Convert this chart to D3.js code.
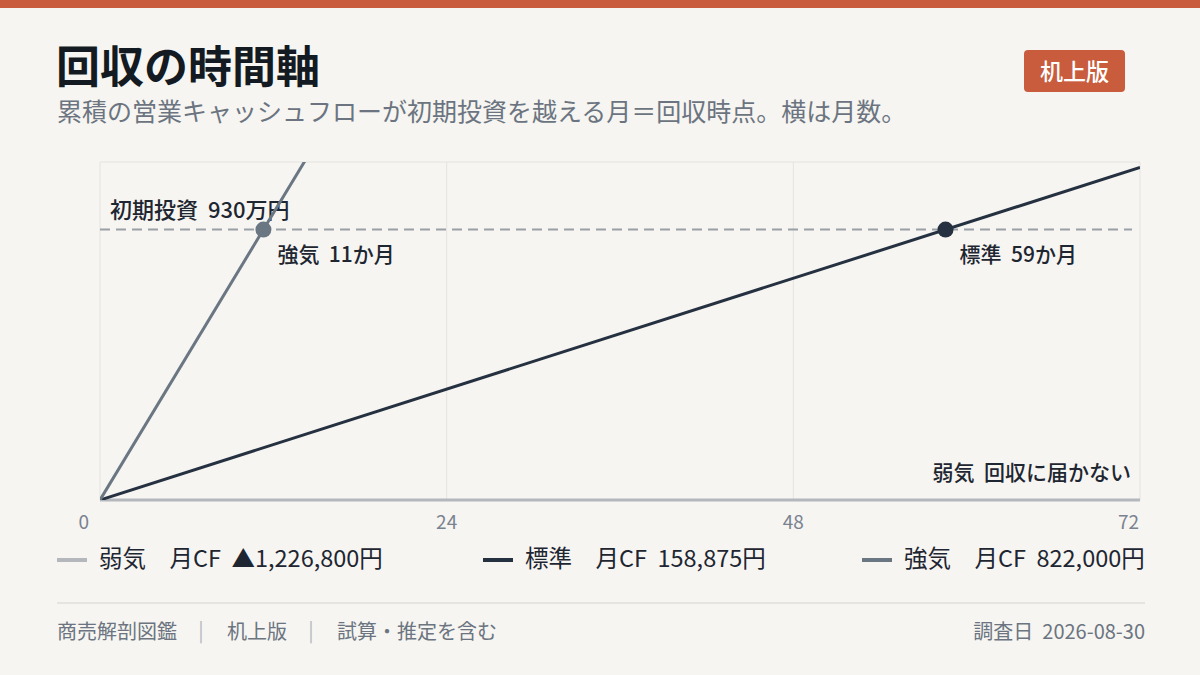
<!DOCTYPE html>
<html lang="ja">
<head>
<meta charset="utf-8">
<script src="https://cdn.jsdelivr.net/npm/d3@7"></script>
<style>
  html, body { margin: 0; padding: 0; background: #f6f5f1; }
  svg { display: block; font-family: "Noto Sans CJK JP", "Noto Sans", sans-serif; }
  svg text { white-space: pre; font-variant-numeric: tabular-nums; }
</style>
</head>
<body>
<svg id="chart" width="1200" height="675"></svg>
<script>
// data
const scenarios = ['弱気', '標準', '強気'];
const monthlyCF = [-1226800, 158875, 822000];
const cfLabels = ['▲1,226,800円', '158,875円', '822,000円'];
const lineColors = ['#b4b8bd', '#253140', '#6b7683'];
const investment = 9300000;
const xTicks = [0, 24, 48, 72];
const maxMonths = 72;
const footerItems = ['商売解剖図鑑', '机上版', '試算・推定を含む'];

const W = 1200, H = 675;
const m = { left: 100, right: 1140, top: 162, bottom: 500 };
const svg = d3.select('#chart');

svg.append('rect').attr('width', W).attr('height', H).attr('fill', '#f6f5f1');
svg.append('rect').attr('width', W).attr('height', 8).attr('fill', '#c85c3c');

// header
svg.append('text').attr('x', 56).attr('y', 83)
  .attr('font-size', 44).attr('font-weight', 700).attr('fill', '#141a22')
  .text('回収の時間軸');
svg.append('text').attr('x', 57).attr('y', 121)
  .attr('font-size', 25).attr('fill', '#6b7480')
  .text('累積の営業キャッシュフローが初期投資を越える月＝回収時点。横は月数。');

svg.append('rect').attr('x', 1024).attr('y', 50).attr('width', 101).attr('height', 42)
  .attr('rx', 4).attr('fill', '#c85c3c');
svg.append('text').attr('x', 1074.5).attr('y', 79.5).attr('text-anchor', 'middle')
  .attr('font-size', 23).attr('font-weight', 500).attr('fill', '#fff')
  .text('机上版');

// scales
const x = d3.scaleLinear().domain([0, maxMonths]).range([m.left, m.right]);
const y = d3.scaleLinear().domain([0, investment * 1.25]).range([m.bottom, m.top]);

// grid
const g = svg.append('g');
g.append('line').attr('x1', m.left).attr('x2', m.right).attr('y1', m.top).attr('y2', m.top)
  .attr('stroke', '#e5e3df');
g.selectAll('.vgrid').data(xTicks).join('line')
  .attr('x1', d => x(d)).attr('x2', d => x(d))
  .attr('y1', m.top).attr('y2', m.bottom)
  .attr('stroke', '#e5e3df');

// investment threshold
g.append('line').attr('x1', m.left).attr('x2', m.right - 8)
  .attr('y1', y(investment)).attr('y2', y(investment))
  .attr('stroke', '#9aa0a8').attr('stroke-width', 2).attr('stroke-dasharray', '10 6');
g.append('text').attr('x', 110).attr('y', y(investment) - 12)
  .attr('font-size', 22).attr('font-weight', 500).attr('fill', '#1e2631')
  .text('初期投資  930万円');

// clip
svg.append('clipPath').attr('id', 'plotclip').append('rect')
  .attr('x', m.left).attr('y', m.top).attr('width', m.right - m.left).attr('height', m.bottom - m.top);

// baseline (weak scenario never rises above zero)
svg.append('line').attr('x1', m.left).attr('x2', m.right)
  .attr('y1', y(0)).attr('y2', y(0))
  .attr('stroke', lineColors[0]).attr('stroke-width', 3);

const lines = svg.append('g').attr('clip-path', 'url(#plotclip)');
[1, 2].forEach(i => {
  lines.append('line')
    .attr('x1', x(0)).attr('y1', y(0))
    .attr('x2', x(maxMonths)).attr('y2', y(monthlyCF[i] * maxMonths))
    .attr('stroke', lineColors[i]).attr('stroke-width', 3);
});

// payback dots and labels
[1, 2].forEach(i => {
  const mo = investment / monthlyCF[i];
  svg.append('circle').attr('cx', x(mo)).attr('cy', y(investment)).attr('r', 8)
    .attr('fill', lineColors[i]);
  svg.append('text').attr('x', x(mo) + 14).attr('y', y(investment) + 32)
    .attr('font-size', 21).attr('font-weight', 500).attr('fill', '#1e2631')
    .text(`${scenarios[i]}  ${Math.round(mo)}か月`);
});
svg.append('text').attr('x', m.right - 9).attr('y', m.bottom - 20)
  .attr('text-anchor', 'end').attr('font-size', 21).attr('font-weight', 500).attr('fill', '#1e2631')
  .text(`${scenarios[0]}  回収に届かない`);

// x tick labels
svg.selectAll('.xt').data(xTicks).join('text')
  .attr('x', d => d === 0 ? x(d) - 11 : (d === maxMonths ? x(d) - 1 : x(d)))
  .attr('y', 529)
  .attr('text-anchor', d => d === 0 || d === maxMonths ? 'end' : 'middle')
  .attr('font-size', 19).attr('fill', '#7a8290')
  .text(d => d);

// legend
const legX = [57, 483, 862];
scenarios.forEach((s, i) => {
  svg.append('line').attr('x1', legX[i]).attr('x2', legX[i] + 30)
    .attr('y1', 560).attr('y2', 560)
    .attr('stroke', lineColors[i]).attr('stroke-width', 4);
  svg.append('text').attr('x', legX[i] + 42).attr('y', 567)
    .attr('font-size', 23.5).attr('fill', '#1e2631')
    .text(`${s}　月CF  ${cfLabels[i]}`);
});

// footer
svg.append('line').attr('x1', 57).attr('x2', 1145).attr('y1', 603).attr('y2', 603)
  .attr('stroke', '#d5d3cf');
let cx = 57;
footerItems.forEach((t, i) => {
  const el = svg.append('text').attr('x', cx).attr('y', 639)
    .attr('font-size', 20).attr('fill', '#6b7480').text(t);
  cx += el.node().getComputedTextLength();
  if (i < footerItems.length - 1) {
    cx += 24;
    svg.append('text').attr('x', cx).attr('y', 638).attr('text-anchor', 'middle')
      .attr('font-size', 20).attr('fill', '#b4b8bd').text('|');
    cx += 26;
  }
});
svg.append('text').attr('x', 1145).attr('y', 639).attr('text-anchor', 'end')
  .attr('font-size', 20).attr('fill', '#6b7480')
  .text('調査日  2026-08-30');
</script>
</body>
</html>
